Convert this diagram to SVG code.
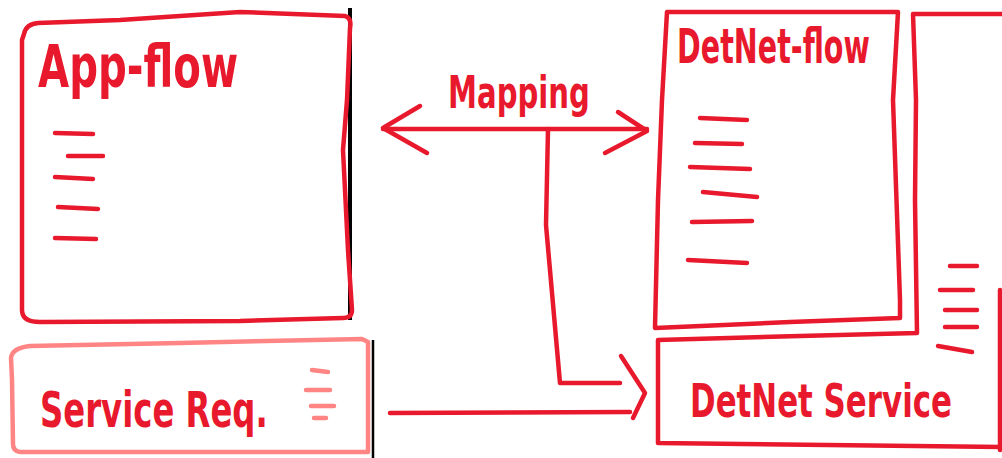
<svg xmlns="http://www.w3.org/2000/svg" width="1002" height="458" viewBox="0 0 1002 458">
<style>
.s{fill:none;stroke:#e8192c;stroke-width:4.5;stroke-linecap:round;stroke-linejoin:round}
.p{fill:none;stroke:#ff8585;stroke-width:4.5;stroke-linecap:round;stroke-linejoin:round}
.k{fill:none;stroke:#000;stroke-linecap:butt}
.t{fill:#e8192c;font-family:"DejaVu Sans",sans-serif;font-weight:bold}
</style>
<rect width="1002" height="458" fill="#fff"/>
<g id="app-flow">
<path class="k" d="M350,8 L350,320" stroke-width="4"/>
<path class="s" d="M24,34 Q26,24 38,23 L120,20 L240,12 L345,16 Q352,18 350,28 L347,100 L343,150 L348,250 L352,310 Q352,318 343,318 L240,321 L40,322 Q22,322 22,310 L22,40 Z"/>
<text class="t" transform="translate(38,87) scale(0.69,1)" font-size="58" textLength="290" lengthAdjust="spacingAndGlyphs">App-flow</text>
<path class="s" d="M55,133 L93,134 M68,156 L103,156 M55,177 L93,179 M58,207 L98,209 M55,238 L96,239"/>
</g>
<g id="service-req">
<path class="k" d="M373,340 L373,458" stroke-width="2.5"/>
<path class="p" d="M11,358 Q12,348 30,346 L180,343 L362,339 L368,342 L368,452 L20,452 Q13,451 13,444 L12,380 Z"/>
<text class="t" transform="translate(40,427) scale(0.66,1)" font-size="49" textLength="345" lengthAdjust="spacingAndGlyphs">Service Req.</text>
<path class="p" d="M312,370 L328,372 M306,390 L330,390 M311,406 L334,406 M314,418 L326,418" stroke-width="3.5"/>
</g>
<g id="detnet-flow">
<path class="s" d="M667,12 L898,12 L893,100 L900,300 L900,318 L790,322 L655,328 L658,200 L662,100 Z"/>
<text class="t" transform="translate(677,63) scale(0.59,1)" font-size="48" textLength="327" lengthAdjust="spacingAndGlyphs">DetNet-flow</text>
<path class="s" d="M700,118 L747,120 M695,143 L742,144 M690,167 L750,169 M703,192 L757,197 M692,222 L752,221 M688,260 L747,263"/>
</g>
<g id="detnet-service">
<path class="s" d="M1002,14 L913,14 L916,100 L915,200 L917,333 L800,336 L658,340 L658,443 L1002,447"/>
<path class="s" d="M1000,290 L1000,450"/>
<text class="t" transform="translate(690,417) scale(0.67,1)" font-size="46" textLength="391" lengthAdjust="spacingAndGlyphs">DetNet Service</text>
<path class="s" d="M950,266 L977,266 M940,290 L973,290 M945,310 L977,310 M945,327 L977,327 M938,346 L972,352"/>
</g>
<g id="connectors">
<path class="s" d="M383,129 L647,129"/>
<path class="s" d="M420,106 L383,128 L427,153"/>
<path class="s" d="M618,112 L647,131 L605,153"/>
<path class="s" d="M548,129 L546,225 L560,383 L620,383"/>
<path class="s" d="M390,413 L630,412"/>
<path class="s" d="M621,356 L645,393 L633,418"/>
<text class="t" transform="translate(448,108) scale(0.66,1)" font-size="44" textLength="215" lengthAdjust="spacingAndGlyphs">Mapping</text>
</g>
</svg>
